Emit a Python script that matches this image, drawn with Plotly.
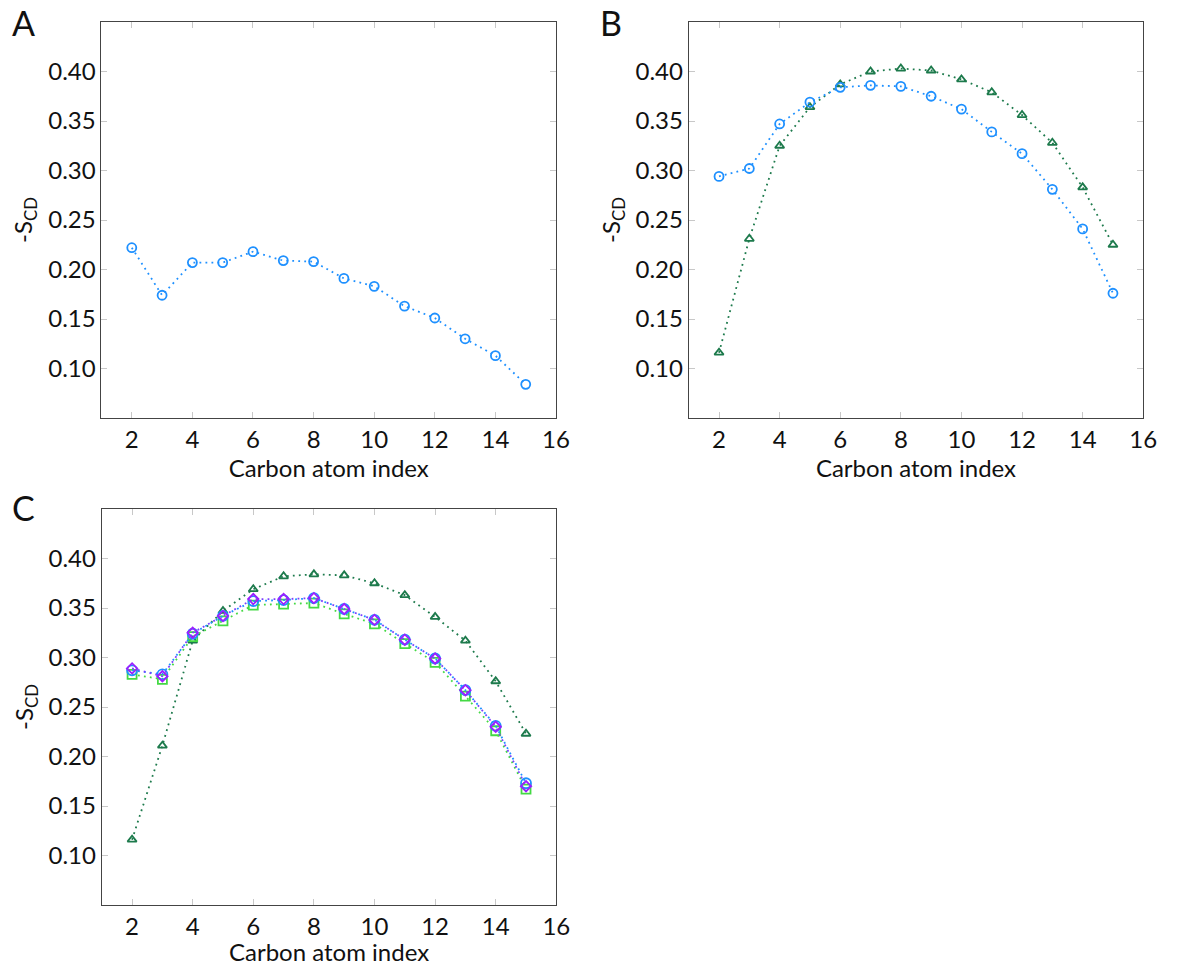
import plotly.graph_objects as go

W, H = 1179, 966

carbon = [2, 3, 4, 5, 6, 7, 8, 9, 10, 11, 12, 13, 14, 15]

# Panel A
a_blue = [0.222, 0.174, 0.207, 0.207, 0.218, 0.209, 0.208, 0.191, 0.183, 0.163, 0.151, 0.130, 0.113, 0.084]

# Panel B
b_blue = [0.294, 0.302, 0.347, 0.369, 0.384, 0.386, 0.385, 0.375, 0.362, 0.339, 0.317, 0.281, 0.241, 0.176]
b_green = [0.116, 0.231, 0.325, 0.364, 0.387, 0.400, 0.403, 0.401, 0.392, 0.379, 0.356, 0.328, 0.283, 0.225]

# Panel C
c_green = [0.116, 0.211, 0.317, 0.347, 0.369, 0.382, 0.384, 0.383, 0.375, 0.363, 0.341, 0.317, 0.276, 0.223]
c_lime = [0.283, 0.278, 0.321, 0.337, 0.353, 0.354, 0.355, 0.344, 0.334, 0.314, 0.295, 0.261, 0.226, 0.167]
c_blue = [0.287, 0.283, 0.324, 0.342, 0.357, 0.358, 0.360, 0.349, 0.338, 0.318, 0.299, 0.267, 0.231, 0.173]
c_purple = [0.289, 0.281, 0.325, 0.342, 0.359, 0.359, 0.360, 0.349, 0.338, 0.318, 0.299, 0.267, 0.230, 0.170]

x_ticks = [2, 4, 6, 8, 10, 12, 14, 16]
y_ticks = [0.10, 0.15, 0.20, 0.25, 0.30, 0.35, 0.40]

BLUE = "#1e90ff"
DGREEN = "#1d7a4c"
LGREEN = "#44d944"
PURPLE = "#9b1fff"
PLINE = "#7b3fff"

FONT = "Lato"
DASH = "1.8px,4.2px"

fig = go.Figure()


def add(x, y, axis, color, symbol, size, lcolor=None):
    fig.add_trace(go.Scatter(
        x=x, y=y, mode="lines+markers",
        xaxis="x" + axis, yaxis="y" + axis,
        line=dict(color=lcolor or color, width=1.8, dash=DASH),
        marker=dict(symbol=symbol, size=size, color=color,
                    line=dict(color=color, width=1.8)),
        showlegend=False,
    ))


add(carbon, a_blue, "", BLUE, "circle-open", 9)
add(carbon, b_green, "2", DGREEN, "triangle-up-open", 8)
add(carbon, b_blue, "2", BLUE, "circle-open", 9)
add(carbon, c_green, "3", DGREEN, "triangle-up-open", 8)
add(carbon, c_lime, "3", LGREEN, "square-open", 9)
add(carbon, c_blue, "3", BLUE, "circle-open", 10)
add(carbon, c_purple, "3", PURPLE, "diamond-open", 8, PLINE)

dom = {
    "A": ([102.7 / W, 562.7 / W], [1 - 418 / H, 1 - 22 / H]),
    "B": ([697 / W, 1157 / W], [1 - 418 / H, 1 - 22 / H]),
    "C": ([103 / W, 563 / W], [1 - 905 / H, 1 - 509 / H]),
}

common_x = dict(
    range=[1, 16], tickvals=x_ticks, ticks="inside", ticklen=6, tickcolor="#c8c8c8",
    showline=True, linecolor="#444", linewidth=1, mirror="ticks", showgrid=False,
    zeroline=False, tickfont=dict(family=FONT, size=24, color="#111"),
    title=dict(text="Carbon atom index", font=dict(family=FONT, size=24, color="#111"), standoff=6),
)
common_y = dict(
    range=[0.05, 0.45], tickvals=y_ticks, tickformat=".2f", ticks="inside", ticklen=6,
    tickcolor="#c8c8c8", showline=True, linecolor="#444", linewidth=1, mirror="ticks",
    showgrid=False, zeroline=False, tickfont=dict(family=FONT, size=24, color="#111"),
    title=dict(text="-S<sub>CD</sub>", font=dict(family=FONT, size=24, color="#111"), standoff=8),
)

layout = dict(
    width=W, height=H, margin=dict(l=0, r=0, t=0, b=0),
    paper_bgcolor="white", plot_bgcolor="white",
)

for suffix, key in [("", "A"), ("2", "B"), ("3", "C")]:
    xd, yd = dom[key]
    layout["xaxis" + suffix] = dict(common_x, domain=xd, anchor="y" + suffix)
    layout["yaxis" + suffix] = dict(common_y, domain=yd, anchor="x" + suffix)

fig.update_layout(**layout)

for label, px, py in [("A", 10, 22), ("B", 605, 22), ("C", 10, 508)]:
    fig.add_annotation(
        text=label, x=px / W, y=1 - py / H, xref="paper", yref="paper",
        xanchor="left", yanchor="middle", showarrow=False,
        font=dict(family=FONT, size=34, color="#111"),
    )

fig.write_html("out.html")
